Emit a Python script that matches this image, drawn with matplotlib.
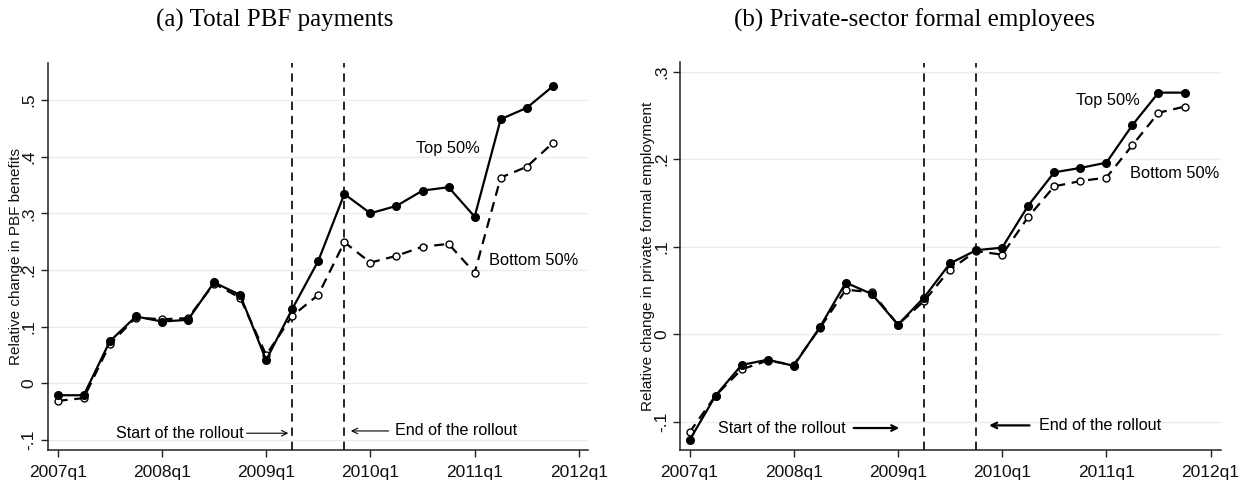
import matplotlib
matplotlib.use("Agg")
import matplotlib.pyplot as plt

# ---------------- data ----------------
quarters = list(range(20))  # 2007q1 ... 2011q4
xtick_pos = [0, 4, 8, 12, 16, 20]
xtick_labels = ["2007q1", "2008q1", "2009q1", "2010q1", "2011q1", "2012q1"]

pbf_top = [-0.021, -0.021, 0.074, 0.118, 0.109, 0.112, 0.178, 0.156, 0.041, 0.131,
           0.216, 0.334, 0.300, 0.313, 0.340, 0.346, 0.294, 0.466, 0.486, 0.524]
pbf_bottom = [-0.031, -0.026, 0.069, 0.116, 0.113, 0.115, 0.176, 0.151, 0.050, 0.119,
              0.156, 0.249, 0.213, 0.225, 0.241, 0.246, 0.195, 0.363, 0.382, 0.424]

emp_top = [-0.121, -0.070, -0.035, -0.029, -0.036, 0.008, 0.059, 0.046, 0.011, 0.042,
           0.081, 0.096, 0.099, 0.147, 0.185, 0.190, 0.196, 0.239, 0.276, 0.276]
emp_bottom = [-0.112, -0.070, -0.040, -0.030, -0.035, 0.007, 0.051, 0.048, 0.011, 0.038,
              0.074, 0.095, 0.091, 0.134, 0.169, 0.175, 0.179, 0.216, 0.253, 0.260]

rollout_start = 9   # 2009q2
rollout_end = 11    # 2009q4

pbf_yticks = [-0.1, 0, 0.1, 0.2, 0.3, 0.4, 0.5]
pbf_ytick_labels = ["-.1", "0", ".1", ".2", ".3", ".4", ".5"]
emp_yticks = [-0.1, 0, 0.1, 0.2, 0.3]
emp_ytick_labels = ["-.1", "0", ".1", ".2", ".3"]

titles = ["(a) Total PBF payments", "(b) Private-sector formal employees"]
ylabels = ["Relative change in PBF benefits", "Relative change in private formal employment"]

# ---------------- figure ----------------
plt.rcParams['font.family'] = ['Liberation Sans', 'DejaVu Sans']
W, H = 1247, 483
fig = plt.figure(figsize=(W / 100, H / 100), dpi=100)

def fx(px):
    return px / W

def fy(py):
    return 1 - py / H

ax_a = fig.add_axes([fx(47.5), fy(450), fx(588 - 47.5), (450 - 62.5) / H])
ax_b = fig.add_axes([fx(680), fy(450), fx(1220.5 - 680), (450 - 62.5) / H])

grid_color = '#e6eef0'

def style_axes(ax, yticks, ylabels_, xlim, ylim, ylabel):
    ax.set_xlim(*xlim)
    ax.set_ylim(*ylim)
    for s in ['top', 'right']:
        ax.spines[s].set_visible(False)
    for s in ['left', 'bottom']:
        ax.spines[s].set_linewidth(1.1)
        ax.spines[s].set_color('#222222')
    ax.set_xticks(xtick_pos)
    ax.set_xticklabels(xtick_labels)
    ax.set_yticks(yticks)
    ax.set_yticklabels(ylabels_, rotation=90, va='center')
    ax.tick_params(axis='both', direction='out', length=5, width=1.0,
                   color='#222222', labelsize=12.5, labelcolor='#111111')
    ax.tick_params(axis='y', pad=3)
    ax.tick_params(axis='x', pad=6)
    for t in yticks:
        ax.axhline(t, color=grid_color, lw=1.0, zorder=0)
    ax.set_ylabel(ylabel, fontsize=11, color='#111111', labelpad=-1)

def plot_series(ax, top, bottom):
    ax.plot(quarters, bottom, color='black', lw=1.6, ls=(0, (4.5, 3)),
            marker='o', markersize=5, markerfacecolor='white',
            markeredgecolor='black', markeredgewidth=1.0, zorder=3)
    ax.plot(quarters, top, color='black', lw=1.6, ls='-',
            marker='o', markersize=5.5, markerfacecolor='black',
            markeredgecolor='black', zorder=4)
    for v in (rollout_start, rollout_end):
        ax.axvline(v, color='black', lw=1.2, ls=(0, (5, 3.5)), zorder=2)

# Panel (a)
style_axes(ax_a, pbf_yticks, pbf_ytick_labels, (-0.39, 20.35), (-0.1176, 0.566), ylabels[0])
plot_series(ax_a, pbf_top, pbf_bottom)
ax_a.text(7.15, -0.088, "Start of the rollout", ha='right', va='center', fontsize=11.6)
ax_a.annotate('', xy=(8.85, -0.088), xytext=(7.25, -0.088),
              arrowprops=dict(arrowstyle='->', lw=0.8, color='black',
                              shrinkA=0, shrinkB=0))
ax_a.annotate('', xy=(11.25, -0.084), xytext=(12.7, -0.084),
              arrowprops=dict(arrowstyle='->', lw=0.8, color='black',
                              shrinkA=0, shrinkB=0))
ax_a.text(12.95, -0.084, "End of the rollout", ha='left', va='center', fontsize=11.6)
ax_a.text(13.75, 0.415, "Top 50%", ha='left', va='center', fontsize=11.8)
ax_a.text(16.55, 0.216, "Bottom 50%", ha='left', va='center', fontsize=11.8)

# Panel (b)
style_axes(ax_b, emp_yticks, emp_ytick_labels, (-0.365, 20.38), (-0.1321, 0.3104), ylabels[1])
plot_series(ax_b, emp_top, emp_bottom)
ax_b.text(1.1, -0.107, "Start of the rollout", ha='left', va='center', fontsize=11.6)
ax_b.annotate('', xy=(8.05, -0.107), xytext=(6.3, -0.107),
              arrowprops=dict(arrowstyle='->', lw=1.6, color='black',
                              shrinkA=0, shrinkB=0))
ax_b.annotate('', xy=(11.5, -0.104), xytext=(13.05, -0.104),
              arrowprops=dict(arrowstyle='->', lw=1.6, color='black',
                              shrinkA=0, shrinkB=0))
ax_b.text(13.4, -0.104, "End of the rollout", ha='left', va='center', fontsize=11.6)
ax_b.text(14.85, 0.267, "Top 50%", ha='left', va='center', fontsize=11.8)
ax_b.text(16.9, 0.184, "Bottom 50%", ha='left', va='center', fontsize=11.8)

# Titles
fig.text(fx(275), fy(20), titles[0], ha='center', va='center',
         fontsize=18, family=['Liberation Serif', 'DejaVu Serif'])
fig.text(fx(914), fy(20), titles[1], ha='center', va='center',
         fontsize=18, family=['Liberation Serif', 'DejaVu Serif'])

fig.savefig("out.png", dpi=100)
